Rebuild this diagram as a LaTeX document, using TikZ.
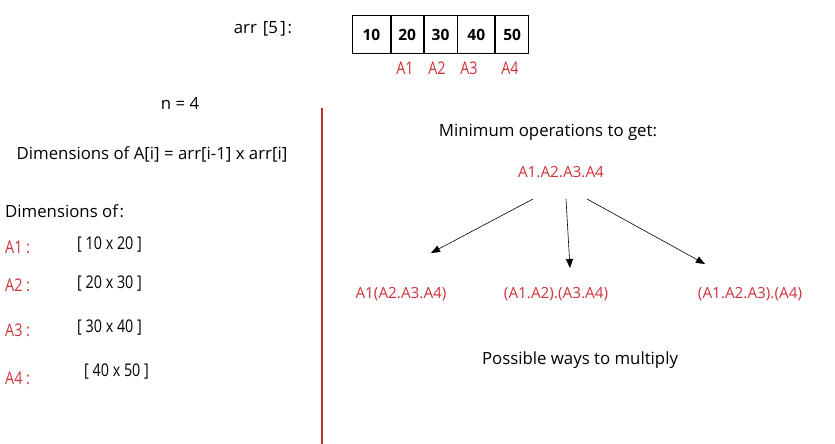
\documentclass[tikz,border=0pt]{standalone}
\usepackage{fontspec}
\setmainfont{Open Sans}
\newfontfamily\condfont[FakeStretch=0.82]{Open Sans}
\usetikzlibrary{arrows.meta}
\definecolor{redtxt}{RGB}{204,52,58}
\definecolor{redline}{RGB}{192,48,40}
\begin{document}
\begin{tikzpicture}[x=1pt,y=-1pt,
  txt/.style={inner sep=0pt,font=\fontsize{16.8}{19}\selectfont},
  redlab/.style={inner sep=0pt,text=redtxt,font=\fontsize{15.3}{18}\selectfont},
  condlab/.style={inner sep=0pt,text=redtxt,font=\condfont\fontsize{17.5}{20}\selectfont},
  dimlab/.style={inner sep=0pt,font=\condfont\fontsize{17.5}{20}\selectfont},
  cell/.style={draw,line width=0.8pt,minimum height=38pt,inner sep=0pt,anchor=west,font=\bfseries\fontsize{15.5}{18}\selectfont},
  arr/.style={-{Triangle[length=9pt,width=7pt]},line width=0.6pt}]
\useasboundingbox (0,0) rectangle (835,444);
% array
\node[cell,minimum width=38pt] (c1) at (352,34.5) {10};
\node[cell,minimum width=32pt] (c2) at (c1.east) {20};
\node[cell,minimum width=33pt] (c3) at (c2.east) {30};
\node[cell,minimum width=37pt] (c4) at (c3.east) {40};
\node[cell,minimum width=33pt] (c5) at (c4.east) {50};
\node[txt] (arrlab) at (263,29) {arr\hspace{0.35em}[5\hspace{0.15em}]\hspace{0.1em}:};
\node[condlab] (l1) at (405,68) {A1};
\node[condlab] (l2) at (437,68) {A2};
\node[condlab] (l3) at (469,68) {A3};
\node[condlab] (l4) at (510,68) {A4};
% left side
\node[txt] (n) at (180,103) {n = 4};
\node[txt] (dimf) at (152,154) {Dimensions of A[i] = arr[i-1] x arr[i]};
\node[txt,anchor=west] (dimof) at (5,211) {Dimensions of\hspace{0.1em}:};
\node[condlab,anchor=west] (a1) at (5,247) {A1 :};
\node[condlab,anchor=west] (a2) at (5,285) {A2 :};
\node[condlab,anchor=west] (a3) at (5,330) {A3 :};
\node[condlab,anchor=west] (a4) at (5,378) {A4 :};
\node[dimlab,anchor=west] (d1) at (77,245) {[ 10 x 20 ]};
\node[dimlab,anchor=west] (d2) at (77,284) {[ 20 x 30 ]};
\node[dimlab,anchor=west] (d3) at (77,328) {[ 30 x 40 ]};
\node[dimlab,anchor=west] (d4) at (84,372) {[ 40 x 50 ]};
% divider
\coordinate (vtop) at (322,108);
\coordinate (vbot) at (322,444);
\draw[redline,line width=2pt] (vtop) -- (vbot);
% right side
\node[txt] (minop) at (548,132) {Minimum operations to get:};
\node[redlab] (prod) at (561,172) {A1.A2.A3.A4};
\coordinate (s1) at (533,199);
\coordinate (s2) at (566,199);
\coordinate (s3) at (587,199);
\coordinate (e1) at (431,253);
\coordinate (e2) at (570,268);
\coordinate (e3) at (705,264);
\draw[arr] (s1) -- (e1);
\draw[arr] (s2) -- (e2);
\draw[arr] (s3) -- (e3);
\node[redlab] (w1) at (401,294) {A1(A2.A3.A4)};
\node[redlab] (w2) at (556,294) {(A1.A2).(A3.A4)};
\node[redlab] (w3) at (750,294) {(A1.A2.A3).(A4)};
\node[txt] (ways) at (580,360) {Possible ways to multiply};
\end{tikzpicture}
\end{document}
